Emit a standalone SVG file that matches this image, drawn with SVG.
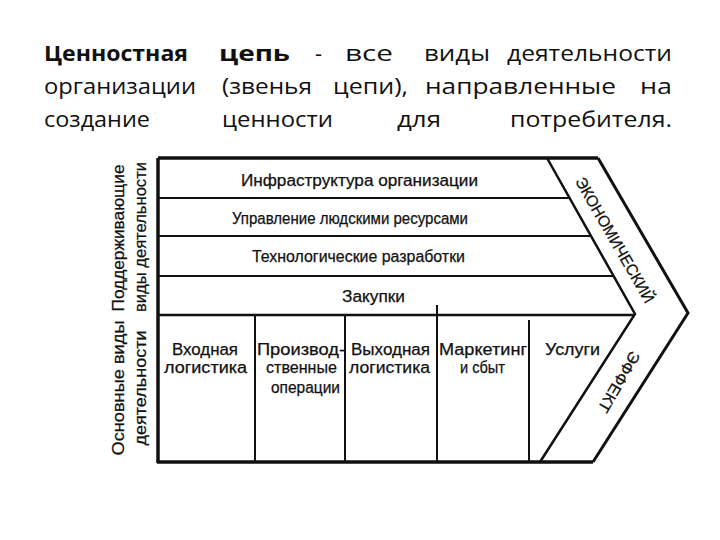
<svg xmlns="http://www.w3.org/2000/svg" width="720" height="540" viewBox="0 0 720 540">
<style>
.hd{font-family:"Open Sans","Noto Sans","Liberation Sans",sans-serif;font-size:22px;fill:#111}
.b{font-weight:bold}
.t{font-family:"Liberation Sans",Arial,sans-serif;font-size:16px;fill:#111;stroke:#111;stroke-width:0.25;text-anchor:middle}
.ln{stroke:#111;fill:none;stroke-linejoin:miter}
</style>
<rect width="720" height="540" fill="#fff"/>
<g id="header">
<text class="hd b" x="44" y="61" textLength="144" lengthAdjust="spacingAndGlyphs">Ценностная</text>
<text class="hd b" x="219" y="61" textLength="71" lengthAdjust="spacingAndGlyphs">цепь</text>
<text class="hd" x="315" y="61">-</text>
<text class="hd" x="345" y="61" textLength="48" lengthAdjust="spacingAndGlyphs">все</text>
<text class="hd" x="424" y="61" textLength="66" lengthAdjust="spacingAndGlyphs">виды</text>
<text class="hd" x="507" y="61" textLength="165" lengthAdjust="spacingAndGlyphs">деятельности</text>
<text class="hd" x="44" y="94" textLength="152" lengthAdjust="spacingAndGlyphs">организации</text>
<text class="hd" x="222" y="94" textLength="90" lengthAdjust="spacingAndGlyphs">(звенья</text>
<text class="hd" x="333" y="94" textLength="75" lengthAdjust="spacingAndGlyphs">цепи),</text>
<text class="hd" x="425" y="94" textLength="191" lengthAdjust="spacingAndGlyphs">направленные</text>
<text class="hd" x="640" y="94" textLength="32" lengthAdjust="spacingAndGlyphs">на</text>
<text class="hd" x="44" y="127" textLength="106" lengthAdjust="spacingAndGlyphs">создание</text>
<text class="hd" x="222" y="127" textLength="111" lengthAdjust="spacingAndGlyphs">ценности</text>
<text class="hd" x="397" y="127" textLength="44" lengthAdjust="spacingAndGlyphs">для</text>
<text class="hd" x="510" y="127" textLength="162" lengthAdjust="spacingAndGlyphs">потребителя.</text>
</g>
<g id="connectors">
<path class="ln" stroke-width="3.5" d="M158,158 H598 M158,158 V463 M157,462 H593"/>
<path class="ln" stroke-width="3" d="M598,158 L688,313 L593,462"/>
<path class="ln" stroke-width="2.5" d="M547,158 L635,314 L540,462"/>
<path class="ln" stroke-width="2" d="M158,198 H570 M158,236 H591 M158,276 H613"/>
<path class="ln" stroke-width="2.5" d="M158,315 H635"/>
<path class="ln" stroke-width="2" d="M255,315 V462 M345,315 V462 M437,305 V462 M529,320 V462"/>
</g>
<g id="side-labels">
<text class="t" transform="translate(118,238) rotate(-90)" dy="0.35em" textLength="147" lengthAdjust="spacingAndGlyphs">Поддерживающие</text>
<text class="t" transform="translate(140,237) rotate(-90)" dy="0.35em" textLength="150" lengthAdjust="spacingAndGlyphs">виды деятельности</text>
<text class="t" transform="translate(118,388) rotate(-90)" dy="0.35em" textLength="135" lengthAdjust="spacingAndGlyphs">Основные виды</text>
<text class="t" transform="translate(140,388) rotate(-90)" dy="0.35em" textLength="115" lengthAdjust="spacingAndGlyphs">деятельности</text>
</g>
<g id="n-infra"><text class="t" x="359.5" y="186" textLength="237" lengthAdjust="spacingAndGlyphs">Инфраструктура организации</text></g>
<g id="n-hr"><text class="t" x="350" y="224" textLength="236" lengthAdjust="spacingAndGlyphs">Управление людскими ресурсами</text></g>
<g id="n-tech"><text class="t" x="358.5" y="262" textLength="213" lengthAdjust="spacingAndGlyphs">Технологические разработки</text></g>
<g id="n-proc"><text class="t" x="373.5" y="302" textLength="63" lengthAdjust="spacingAndGlyphs">Закупки</text></g>
<g id="n-inlog">
<text class="t" x="205" y="355" textLength="66" lengthAdjust="spacingAndGlyphs">Входная</text>
<text class="t" x="205.5" y="373" textLength="83" lengthAdjust="spacingAndGlyphs">логистика</text>
</g>
<g id="n-ops">
<text class="t" x="301" y="355" textLength="88" lengthAdjust="spacingAndGlyphs">Производ-</text>
<text class="t" x="301.5" y="373" textLength="71" lengthAdjust="spacingAndGlyphs">ственные</text>
<text class="t" x="305.5" y="393" textLength="69" lengthAdjust="spacingAndGlyphs">операции</text>
</g>
<g id="n-outlog">
<text class="t" x="390.5" y="355" textLength="79" lengthAdjust="spacingAndGlyphs">Выходная</text>
<text class="t" x="389.5" y="373" textLength="81" lengthAdjust="spacingAndGlyphs">логистика</text>
</g>
<g id="n-mkt">
<text class="t" x="483" y="355" textLength="88" lengthAdjust="spacingAndGlyphs">Маркетинг</text>
<text class="t" x="482.5" y="373" textLength="45" lengthAdjust="spacingAndGlyphs">и сбыт</text>
</g>
<g id="n-serv"><text class="t" x="572.5" y="355" textLength="55" lengthAdjust="spacingAndGlyphs">Услуги</text></g>
<g id="n-margin">
<text class="t" transform="translate(615,240) rotate(60)" dy="0.35em" textLength="142" lengthAdjust="spacingAndGlyphs">ЭКОНОМИЧЕСКИЙ</text>
<text class="t" transform="translate(619,382) rotate(120)" dy="0.35em" textLength="68" lengthAdjust="spacingAndGlyphs">ЭФФЕКТ</text>
</g>
</svg>
